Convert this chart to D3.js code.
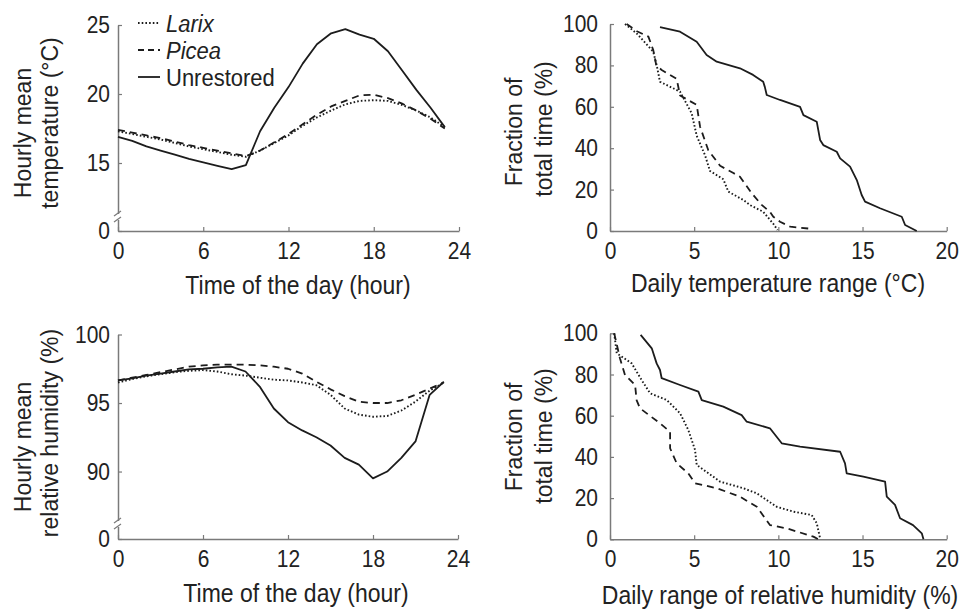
<!DOCTYPE html>
<html><head><meta charset="utf-8">
<script src="https://cdn.jsdelivr.net/npm/d3@7"></script>
<style>
body{margin:0;background:#fff}
svg{font-family:"Liberation Sans",Arial,Helvetica,sans-serif}
</style></head><body>
<svg id="c" width="972" height="610"></svg>
<script>
// ---------------- DATA ----------------
const hours = [0,1,2,3,4,5,6,7,8,9,10,11,12,13,14,15,16,17,18,19,20,21,22,23];
const tempLarix      = [17.3,17.1,16.9,16.7,16.45,16.2,16.0,15.8,15.6,15.45,15.9,16.45,17.0,17.7,18.3,18.8,19.25,19.5,19.55,19.5,19.2,18.8,18.3,17.6];
const tempPicea      = [17.4,17.2,17.0,16.8,16.55,16.3,16.1,15.9,15.7,15.5,15.9,16.5,17.1,17.8,18.5,19.1,19.5,19.9,19.95,19.7,19.3,18.8,18.2,17.5];
const tempUnrestored = [16.9,16.6,16.2,15.9,15.6,15.3,15.05,14.8,14.55,14.85,17.3,19.0,20.5,22.2,23.6,24.4,24.7,24.3,24.0,23.1,21.7,20.3,19.0,17.6];
const rhLarix      = [96.5,96.75,96.95,97.1,97.25,97.35,97.4,97.3,97.1,97.0,96.85,96.7,96.65,96.5,96.3,95.6,94.6,94.15,94.0,94.05,94.45,95.1,95.9,96.5];
const rhPicea      = [96.65,96.85,97.05,97.25,97.45,97.65,97.75,97.8,97.8,97.8,97.75,97.65,97.5,97.15,96.55,96.0,95.5,95.1,95.0,95.0,95.2,95.6,96.05,96.5];
const rhUnrestored = [96.65,96.8,97.0,97.15,97.3,97.45,97.5,97.6,97.65,97.3,96.2,94.6,93.6,93.0,92.5,91.9,91.0,90.5,89.5,90.0,91.0,92.2,95.6,96.55];

// daily temperature range (°C) vs fraction of total time (%)
const dtrLarix = [[0.89,100],[1.58,95.5],[2.57,86.6],[2.77,80.2],[2.97,72.1],[4.16,67.3],[4.85,56.9],[5.15,46],[5.64,36.7],[5.94,29],[6.73,25],[7.03,19],[7.92,15.0],[8.32,12.5],[9.1,9.3],[9.7,3.5],[9.95,0.5]];
const dtrPicea = [[0.99,100],[1.6,96.5],[2.28,93.9],[2.57,87.4],[2.75,80],[3.07,77.8],[3.96,73.5],[4.16,65.5],[5.15,60.9],[5.35,50.4],[5.84,39],[6.54,31.5],[7.33,28],[7.72,26.2],[8.42,18.2],[9.01,12.6],[9.5,9.3],[9.7,6.9],[10.1,4.5],[10.7,2.1],[11.78,1.2]];
const dtrUnrestored = [[2.97,98.5],[4.16,96.3],[5.15,91.4],[5.74,85.0],[6.34,81.8],[7.72,78.6],[8.5,75.4],[9.1,72.1],[9.2,69.5],[9.31,65.7],[10.1,63.3],[11.29,60.0],[11.49,56.0],[12.28,52.8],[12.48,44.0],[12.67,41.5],[13.47,38.3],[13.67,35.1],[14.26,31.1],[14.66,24.6],[14.95,17.4],[15.15,14.2],[16.04,11.0],[17.33,6.9],[17.53,2.9],[18.22,0]];

// daily range of relative humidity (%) vs fraction of total time (%)
const drhLarix = [[0.25,100],[0.4,90.3],[1.29,85.4],[1.88,77.3],[2.38,70.9],[3.37,67.6],[4.16,61.2],[4.65,53.1],[5.05,43.4],[5.15,36.1],[6.54,28.0],[7.92,24.8],[8.72,22.3],[9.9,15.8],[10.9,13.4],[11.98,11.8],[12.28,7.8],[12.48,0.5]];
const drhPicea = [[0.25,100],[0.59,87.9],[0.89,79.8],[1.49,74.9],[1.58,67.6],[1.78,63.6],[2.97,56.3],[3.57,52.2],[3.57,44.2],[3.96,36.9],[4.65,32.0],[5.05,27.2],[6.34,24.8],[7.72,20.7],[8.72,15.8],[9.5,6.9],[10.5,5.3],[12.08,1.3],[12.38,0]];
const drhUnrestored = [[1.82,99.2],[2.48,92.7],[2.77,85.4],[2.97,82.2],[3.07,78.2],[4.16,74.9],[5.25,71.7],[5.45,67.6],[6.73,64.4],[7.82,60.3],[8.12,57.1],[9.5,53.9],[10.2,46.6],[11.29,45.0],[13.67,42.5],[13.96,36.9],[14.06,32.0],[15.05,30.4],[16.34,28.0],[16.44,20.7],[16.93,16.7],[17.23,10.2],[18.0,6.9],[18.52,2.9],[18.62,0]];

const seriesNames = ["Larix","Picea","Unrestored"];
const hourTicks  = [0,6,12,18,24];
const tempTicks  = [0,15,20,25];
const rhTicks    = [0,90,95,100];
const rangeTicks = [0,5,10,15,20];
const fracTicks  = [0,20,40,60,80,100];

// ---------------- STYLE ----------------
const svg = d3.select("#c");
const STRETCH = 1.12;
const AXIS = "#7a7a7a";
const INK = "#1c1c1c";
const TXT = "#222";
const styles = {
  Larix:      {dash:"1.6,2.1", width:1.9},
  Picea:      {dash:"7,5",    width:1.8},
  Unrestored: {dash:null,     width:1.8}
};

function stext(g, x, y, str, size, anchor, italic){
  return g.append("text")
    .attr("transform", `translate(${x},${y}) scale(1,${STRETCH})`)
    .attr("dy","0.35em")
    .attr("text-anchor", anchor || "middle")
    .attr("font-size", size)
    .attr("font-style", italic ? "italic" : null)
    .attr("fill", TXT)
    .text(str);
}
function rtext(g, x, y, str, size){
  return g.append("text")
    .attr("transform", `translate(${x},${y}) rotate(-90)`)
    .attr("text-anchor","middle")
    .attr("font-size", size)
    .attr("fill", TXT)
    .text(str);
}

function drawAxes(x, y, xTicks, yTicks, xPad, yPad){
  const [y0] = y.range();
  const [x0] = x.range();
  const gx = svg.append("g").attr("transform",`translate(0,${y0})`)
    .call(d3.axisBottom(x).tickValues(xTicks).tickSize(-4).tickSizeOuter(0).tickPadding(xPad));
  const gy = svg.append("g").attr("transform",`translate(${x0},0)`)
    .call(d3.axisLeft(y).tickValues(yTicks).tickSize(-4).tickSizeOuter(0).tickPadding(yPad));
  [gx,gy].forEach(g=>{
    g.select(".domain").attr("stroke",AXIS).attr("stroke-width",1.5);
    g.selectAll(".tick line").attr("stroke",AXIS).attr("stroke-width",1.2);
    g.selectAll(".tick text").attr("font-size",21).attr("fill",TXT)
      .attr("font-family",'"Liberation Sans",Arial,sans-serif')
      .attr("transform",`scale(1,${STRETCH})`);
  });
}

function drawBreak(xa, yc){
  svg.append("rect").attr("x",xa-3).attr("y",yc-3).attr("width",6).attr("height",6).attr("fill","#fff");
  [-3,3].forEach(o=>{
    svg.append("line").attr("x1",xa-4).attr("y1",yc+o+2).attr("x2",xa+3).attr("y2",yc+o-3)
      .attr("stroke",AXIS).attr("stroke-width",1.2);
  });
}

function drawSeries(line, data, name){
  const s = styles[name];
  svg.append("path").datum(data).attr("d",line)
    .attr("fill","none").attr("stroke",INK).attr("stroke-width",s.width)
    .attr("stroke-dasharray",s.dash).attr("stroke-linejoin","round");
}

// ---------------- PANEL A: hourly temperature ----------------
{
  const x = d3.scaleLinear().domain([0,24]).range([118,459]);
  const y = d3.scaleLinear().domain([0,11.5,25]).range([231,211.3,25]);
  drawAxes(x,y,hourTicks,tempTicks,10,8);
  drawBreak(118, 217);
  const line = d3.line().x((d,i)=>x(hours[i])).y(d=>y(d));
  drawSeries(line,tempLarix,"Larix");
  drawSeries(line,tempPicea,"Picea");
  drawSeries(line,tempUnrestored,"Unrestored");
  stext(svg,298,285,"Time of the day (hour)",23);
  rtext(svg,31,133,"Hourly mean",23);
  rtext(svg,58,123,"temperature (°C)",23);
  // legend
  const rows = [23,50,77];
  seriesNames.forEach((n,i)=>{
    const s = styles[n];
    const lx = d3.scaleLinear().domain([0,1]).range([138,160]);
    svg.append("line").attr("x1",lx(0)).attr("x2",lx(1)).attr("y1",rows[i]).attr("y2",rows[i])
      .attr("stroke",INK).attr("stroke-width",s.width)
      .attr("stroke-dasharray", n==="Picea" ? "6,4" : s.dash);
    stext(svg,166,rows[i],n,22,"start",n!=="Unrestored");
  });
}

// ---------------- PANEL B: temperature range ----------------
{
  const x = d3.scaleLinear().domain([0,20]).range([610,946.7]);
  const y = d3.scaleLinear().domain([0,100]).range([231,24]);
  drawAxes(x,y,rangeTicks,fracTicks,10,12);
  const line = d3.line().x(d=>x(d[0])).y(d=>y(d[1]));
  drawSeries(line,dtrLarix,"Larix");
  drawSeries(line,dtrPicea,"Picea");
  drawSeries(line,dtrUnrestored,"Unrestored");
  stext(svg,778,283,"Daily temperature range (°C)",23);
  rtext(svg,522,132,"Fraction of",23);
  rtext(svg,552,129,"total time (%)",23);
}

// ---------------- PANEL C: hourly humidity ----------------
{
  const x = d3.scaleLinear().domain([0,24]).range([118,458]);
  const y = d3.scaleLinear().domain([0,86.5,100]).range([539,519.5,334.5]);
  drawAxes(x,y,hourTicks,rhTicks,10,8);
  drawBreak(118, 524);
  const line = d3.line().x((d,i)=>x(hours[i])).y(d=>y(d));
  drawSeries(line,rhLarix,"Larix");
  drawSeries(line,rhPicea,"Picea");
  drawSeries(line,rhUnrestored,"Unrestored");
  stext(svg,296,593,"Time of the day (hour)",23);
  rtext(svg,31,447,"Hourly mean",23);
  rtext(svg,58,433,"relative humidity (%)",23);
}

// ---------------- PANEL D: humidity range ----------------
{
  const x = d3.scaleLinear().domain([0,20]).range([610,946.7]);
  const y = d3.scaleLinear().domain([0,100]).range([539.3,333.3]);
  drawAxes(x,y,rangeTicks,fracTicks,10,12);
  const line = d3.line().x(d=>x(d[0])).y(d=>y(d[1]));
  drawSeries(line,drhLarix,"Larix");
  drawSeries(line,drhPicea,"Picea");
  drawSeries(line,drhUnrestored,"Unrestored");
  stext(svg,780,595,"Daily range of relative humidity (%)",23);
  rtext(svg,522,437,"Fraction of",23);
  rtext(svg,552,436,"total time (%)",23);
}
</script>
</body></html>
